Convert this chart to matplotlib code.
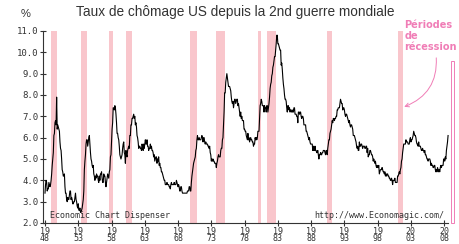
import matplotlib
matplotlib.use("Agg")
import matplotlib.pyplot as plt
from matplotlib.patches import Rectangle
import numpy as np

# taux de chomage mensuel (%), janv. 1948 -> aout 2008
u_1948_1957 = [
    3.4, 3.8, 4.0, 3.9, 3.5, 3.6, 3.6, 3.9, 3.8, 3.7, 3.8, 4.0,
    4.3, 4.7, 5.0, 5.3, 6.1, 6.2, 6.7, 6.8, 6.6, 7.9, 6.4, 6.6,
    6.5, 6.4, 6.3, 5.8, 5.5, 5.4, 5.0, 4.5, 4.4, 4.2, 4.2, 4.3,
    3.7, 3.4, 3.4, 3.1, 3.0, 3.2, 3.1, 3.1, 3.3, 3.5, 3.5, 3.1,
    3.2, 3.1, 2.9, 2.9, 3.0, 3.0, 3.2, 3.4, 3.1, 3.0, 2.8, 2.7,
    2.9, 2.6, 2.6, 2.7, 2.5, 2.5, 2.6, 2.7, 2.9, 3.1, 3.5, 4.5,
    4.9, 5.2, 5.7, 5.9, 5.9, 5.6, 5.8, 6.0, 6.1, 5.7, 5.3, 5.0,
    4.9, 4.7, 4.6, 4.7, 4.3, 4.2, 4.0, 4.2, 4.1, 4.3, 4.2, 4.2,
    4.0, 3.9, 4.2, 4.0, 4.3, 4.3, 4.4, 4.1, 3.9, 3.9, 4.3, 4.2,
    4.2, 3.9, 3.7, 3.9, 4.1, 4.3, 4.2, 4.1, 4.4, 4.5, 5.1, 5.2,
]
u_1958_1967 = [
    5.8, 6.4, 6.7, 7.4, 7.4, 7.3, 7.5, 7.4, 7.1, 6.7, 6.2, 6.2,
    6.0, 5.9, 5.6, 5.2, 5.1, 5.0, 5.1, 5.2, 5.5, 5.7, 5.8, 5.3,
    5.2, 4.8, 5.4, 5.2, 5.1, 5.4, 5.5, 5.6, 5.5, 6.1, 6.1, 6.6,
    6.6, 6.9, 6.9, 7.0, 7.1, 6.9, 7.0, 6.6, 6.7, 6.5, 6.1, 6.0,
    5.8, 5.5, 5.6, 5.6, 5.5, 5.5, 5.4, 5.7, 5.6, 5.4, 5.7, 5.5,
    5.7, 5.9, 5.7, 5.7, 5.9, 5.6, 5.6, 5.4, 5.5, 5.5, 5.7, 5.5,
    5.6, 5.4, 5.4, 5.3, 5.1, 5.2, 4.9, 5.0, 5.1, 5.1, 4.8, 5.0,
    4.9, 5.1, 4.7, 4.8, 4.6, 4.6, 4.4, 4.4, 4.3, 4.2, 4.1, 4.0,
    4.0, 3.8, 3.8, 3.8, 3.9, 3.8, 3.8, 3.8, 3.7, 3.7, 3.6, 3.8,
    3.9, 3.8, 3.8, 3.8, 3.8, 3.9, 3.8, 3.8, 3.8, 4.0, 3.9, 3.8,
]
u_1968_1977 = [
    3.7, 3.8, 3.7, 3.5, 3.5, 3.7, 3.7, 3.5, 3.4, 3.4, 3.4, 3.4,
    3.4, 3.4, 3.4, 3.4, 3.4, 3.5, 3.5, 3.5, 3.7, 3.7, 3.5, 3.5,
    3.9, 4.2, 4.4, 4.6, 4.8, 4.9, 5.0, 5.1, 5.4, 5.5, 5.9, 6.1,
    5.9, 5.9, 6.0, 5.9, 5.9, 5.9, 6.0, 6.1, 6.0, 5.8, 6.0, 6.0,
    5.8, 5.7, 5.8, 5.7, 5.7, 5.7, 5.6, 5.6, 5.5, 5.6, 5.3, 5.2,
    4.9, 5.0, 4.9, 5.0, 4.9, 4.9, 4.8, 4.8, 4.8, 4.6, 4.8, 4.9,
    5.1, 5.2, 5.1, 5.1, 5.1, 5.4, 5.5, 5.5, 5.9, 6.0, 6.6, 7.2,
    8.1, 8.1, 8.6, 8.8, 9.0, 8.8, 8.6, 8.4, 8.4, 8.4, 8.3, 8.2,
    7.9, 7.7, 7.6, 7.7, 7.4, 7.6, 7.8, 7.8, 7.6, 7.7, 7.8, 7.8,
    7.5, 7.6, 7.4, 7.2, 7.0, 7.2, 6.9, 7.0, 6.8, 6.8, 6.8, 6.4,
]
u_1978_1987 = [
    6.4, 6.3, 6.3, 6.1, 6.0, 5.9, 6.2, 5.9, 6.0, 5.8, 5.9, 6.0,
    5.9, 5.9, 5.8, 5.8, 5.6, 5.7, 5.7, 6.0, 5.9, 6.0, 5.9, 6.0,
    6.3, 6.3, 6.3, 6.9, 7.5, 7.6, 7.8, 7.7, 7.5, 7.5, 7.5, 7.2,
    7.5, 7.4, 7.4, 7.2, 7.5, 7.5, 7.2, 7.4, 7.6, 7.9, 8.3, 8.5,
    8.6, 8.9, 9.0, 9.3, 9.4, 9.6, 9.8, 9.8, 10.1, 10.4, 10.8, 10.8,
    10.4, 10.4, 10.3, 10.2, 10.1, 10.1, 9.4, 9.5, 9.2, 8.8, 8.5, 8.3,
    8.0, 7.8, 7.8, 7.7, 7.4, 7.2, 7.5, 7.5, 7.3, 7.4, 7.2, 7.3,
    7.3, 7.2, 7.2, 7.3, 7.2, 7.4, 7.4, 7.1, 7.1, 7.1, 7.0, 7.0,
    6.7, 7.2, 7.2, 7.1, 7.2, 7.2, 7.0, 6.9, 7.0, 7.0, 6.9, 6.6,
    6.6, 6.6, 6.6, 6.3, 6.3, 6.2, 6.1, 6.0, 5.9, 6.0, 5.8, 5.7,
]
u_1988_1997 = [
    5.7, 5.7, 5.7, 5.4, 5.6, 5.4, 5.4, 5.6, 5.4, 5.4, 5.3, 5.3,
    5.4, 5.2, 5.0, 5.2, 5.2, 5.3, 5.2, 5.2, 5.3, 5.3, 5.4, 5.4,
    5.4, 5.3, 5.2, 5.4, 5.4, 5.2, 5.5, 5.7, 5.9, 5.9, 6.2, 6.3,
    6.4, 6.6, 6.8, 6.7, 6.9, 6.9, 6.8, 6.9, 6.9, 7.0, 7.0, 7.3,
    7.3, 7.4, 7.4, 7.4, 7.6, 7.8, 7.7, 7.6, 7.6, 7.3, 7.4, 7.4,
    7.3, 7.1, 7.0, 7.1, 7.1, 7.0, 6.9, 6.8, 6.7, 6.8, 6.6, 6.5,
    6.6, 6.6, 6.5, 6.4, 6.1, 6.1, 6.1, 6.0, 5.9, 5.8, 5.6, 5.5,
    5.6, 5.4, 5.4, 5.8, 5.6, 5.6, 5.7, 5.7, 5.6, 5.5, 5.6, 5.6,
    5.6, 5.5, 5.5, 5.6, 5.6, 5.3, 5.5, 5.1, 5.2, 5.2, 5.4, 5.4,
    5.3, 5.2, 5.2, 5.1, 4.9, 5.0, 4.9, 4.8, 4.9, 4.7, 4.6, 4.7,
]
u_1998_2008 = [
    4.6, 4.6, 4.7, 4.3, 4.4, 4.5, 4.5, 4.5, 4.6, 4.5, 4.4, 4.4,
    4.3, 4.4, 4.2, 4.3, 4.2, 4.3, 4.3, 4.2, 4.2, 4.1, 4.1, 4.0,
    4.0, 4.1, 4.0, 3.8, 4.0, 4.0, 4.0, 4.1, 3.9, 3.9, 3.9, 3.9,
    4.2, 4.2, 4.3, 4.4, 4.3, 4.5, 4.6, 4.9, 5.0, 5.3, 5.5, 5.7,
    5.7, 5.7, 5.7, 5.9, 5.8, 5.8, 5.8, 5.7, 5.7, 5.7, 5.9, 6.0,
    5.8, 5.9, 5.9, 6.0, 6.1, 6.3, 6.2, 6.1, 6.1, 6.0, 5.8, 5.7,
    5.7, 5.6, 5.8, 5.6, 5.6, 5.6, 5.5, 5.4, 5.4, 5.5, 5.4, 5.4,
    5.3, 5.4, 5.2, 5.2, 5.1, 5.0, 5.0, 4.9, 5.0, 5.0, 5.0, 4.9,
    4.7, 4.8, 4.7, 4.7, 4.6, 4.6, 4.7, 4.7, 4.5, 4.4, 4.5, 4.4,
    4.6, 4.5, 4.4, 4.5, 4.4, 4.6, 4.7, 4.6, 4.7, 4.7, 4.7, 5.0,
    5.0, 4.9, 5.1, 5.0, 5.4, 5.6, 5.8, 6.1,
]

# periodes de recession (annees decimales)
rec_start = [1948.85, 1953.45, 1957.55, 1960.2, 1969.8, 1973.7, 1979.95, 1981.4, 1990.4, 2001.1]
rec_end = [1949.75, 1954.35, 1958.2, 1961.05, 1970.8, 1975.1, 1980.45, 1982.75, 1991.1, 2001.8]

year_ticks = list(range(1948, 2009, 5))
y_ticks = [2.0, 3.0, 4.0, 5.0, 6.0, 7.0, 8.0, 9.0, 10.0, 11.0]

rate = np.array(u_1948_1957 + u_1958_1967 + u_1968_1977 + u_1978_1987 + u_1988_1997 + u_1998_2008)
t = 1948 + np.arange(len(rate)) / 12.0

pink = '#f9c6cc'
pink_txt = '#f07db6'
dark = '#333333'

fig = plt.figure(figsize=(4.6, 2.44), dpi=100)
ax = fig.add_axes([43 / 460, 21 / 244, (455.5 - 43) / 460, 192 / 244])

for a, b in zip(rec_start, rec_end):
    ax.axvspan(a, b, color=pink, lw=0, zorder=0)

ax.plot(t, rate, color='black', lw=0.8, zorder=2)

# cadre de la legende (recession en cours)
ax.add_patch(Rectangle((2008.95, 2.0), 0.55, 7.6, facecolor='none',
                       edgecolor=pink_txt, lw=0.7, clip_on=False, zorder=1))

ax.set_xlim(1947.7, 2009.7)
ax.set_ylim(2.0, 11.0)
ax.spines['top'].set_visible(False)
ax.spines['right'].set_visible(False)
ax.spines['left'].set_color(dark)
ax.spines['bottom'].set_color(dark)
ax.spines['bottom'].set_bounds(1947.7, 2008.6)

ax.set_yticks(y_ticks)
ax.set_yticklabels(['%.1f' % v for v in y_ticks], family='DejaVu Sans Mono',
                   fontsize=6.5, color=dark)
ax.set_xticks(year_ticks)
ax.set_xticklabels(['%s\n%s' % (str(y)[:2], str(y)[2:]) for y in year_ticks],
                   family='DejaVu Sans Mono', fontsize=6, color=dark, linespacing=0.75)
ax.tick_params(axis='both', direction='inout', length=5, width=0.8, color=dark, pad=1)
ax.tick_params(axis='x', pad=0.2)

ax.text(1948.8, 2.15, 'Economic Chart Dispenser', family='DejaVu Sans Mono',
        fontsize=6, color=dark, va='bottom')
ax.text(2008.0, 2.15, 'http://www.Economagic.com/', family='DejaVu Sans Mono',
        fontsize=6, color=dark, va='bottom', ha='right')

fig.text(235 / 460, 1 - 12 / 244, 'Taux de chômage US depuis la 2nd guerre mondiale',
         family='Liberation Sans', fontsize=9.8, color=dark, ha='center', va='center')
fig.text(26 / 460, 1 - 14 / 244, '%', family='Liberation Sans', fontsize=8,
         color=dark, ha='center', va='center')

ax.annotate('Périodes\nde\nrécession', xy=(2001.6, 7.4), xytext=(2002.0, 10.0),
            fontsize=7, fontweight='bold', family='DejaVu Sans', color=pink_txt,
            ha='left', va='bottom', linespacing=1.15, annotation_clip=False,
            arrowprops=dict(arrowstyle='->', color=pink_txt, lw=0.7,
                            connectionstyle='arc3,rad=-0.4',
                            relpos=(0.6, 0.0)))

fig.savefig('out.png', dpi=100)
